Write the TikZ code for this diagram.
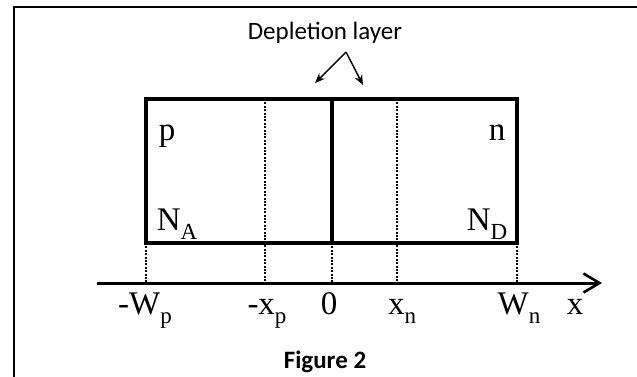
\documentclass[tikz,border=0pt]{standalone}
\usepackage{fontspec}
\setmainfont{Liberation Serif}
\newfontfamily\capfont{Carlito}
\usetikzlibrary{arrows.meta,positioning}
\newcommand{\sbs}[1]{\raisebox{-0.3em}{\fontsize{23}{23}\selectfont #1}}

\begin{document}
\begin{tikzpicture}[x=1pt,y=-1pt,
  lbl/.style={anchor=base,inner sep=0pt,font=\fontsize{33}{33}\selectfont},
  captext/.style={anchor=base,inner sep=0pt,font=\capfont\fontsize{25}{25}\selectfont},
  edge/.style={line width=3.2pt},
  guide/.style={line width=2.2pt,dash pattern=on 2pt off 1.4pt}]
 \path[use as bounding box,clip] (0,0) rectangle (637,376);
 % frame
 \draw[line width=2.2pt] (14,400) -- (14,7) -- (660,7);
 % junction box
 \coordinate (tl) at (146,99);  \coordinate (br) at (517,243);
 \coordinate (bl) at (146,243); \coordinate (tr) at (517,99);
 \coordinate (jt) at (332,99);  \coordinate (jb) at (332,243);
 \coordinate (xpt) at (265,99); \coordinate (xnt) at (397,99);
 \draw[edge] (tl) rectangle (br);
 \draw[edge] (jt) -- (jb);
 % axis
 \coordinate (ax0) at (97,283); \coordinate (ax1) at (602,283);
 \draw[line width=3pt,-{Straight Barb[length=16pt,width=19pt,line width=2.6pt]}] (ax0) -- (ax1);
 \coordinate (fWp) at (146,283); \coordinate (fxp) at (265,283);
 \coordinate (f0) at (332,283);  \coordinate (fxn) at (397,283);
 \coordinate (fWn) at (517,283);
 \draw[guide] (bl) -- (fWp);
 \draw[guide] (xpt) -- (fxp);
 \draw[guide] (jb) -- (f0);
 \draw[guide] (xnt) -- (fxn);
 \draw[guide] (br) -- (fWn);
 % region labels
 \node[lbl] (p) at (167,140) {p};
 \node[lbl] (n) at (497,140) {n};
 \node[lbl] (NA) at (177,230) {N\sbs{A}};
 \node[lbl] (ND) at (487,230) {N\sbs{D}};
 % axis labels
 \node[lbl] (lWp) at (145,314) {-W\sbs{p}};
 \node[lbl] (lxp) at (267,314) {-x\sbs{p}};
 \node[lbl] (l0) at (329,314) {0};
 \node[lbl] (lxn) at (402,314) {x\sbs{n}};
 \node[lbl] (lWn) at (519,314) {W\sbs{n}};
 \node[lbl] (lx) at (575,314) {x};
 % depletion layer pointer
 \node[captext] (dep) at (325,39) {Depletion layer};
 \coordinate (apex) at (346,52);
 \coordinate (tipl) at (315,83); \coordinate (tipr) at (363,85);
 \draw[line width=1.4pt,-{Stealth[length=10pt,width=8pt]}] (apex) -- (tipl);
 \draw[line width=1.4pt,-{Stealth[length=10pt,width=8pt]}] (apex) -- (tipr);
 \node[captext,font=\capfont\bfseries\fontsize{25}{25}\selectfont] (fig) at (325,368) {Figure 2};
\end{tikzpicture}
\end{document}
